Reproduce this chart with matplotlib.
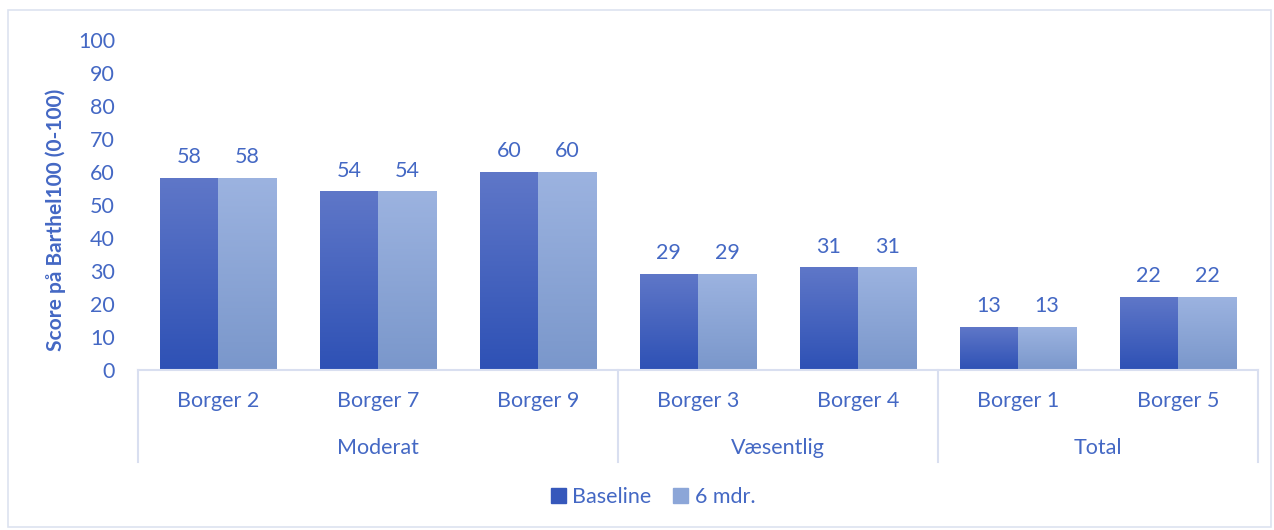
import numpy as np
import matplotlib.pyplot as plt
from matplotlib.patches import Rectangle
from matplotlib.lines import Line2D
from matplotlib.colors import to_rgb
import matplotlib.transforms as mtransforms

categories = ["Borger 2", "Borger 7", "Borger 9", "Borger 3", "Borger 4", "Borger 1", "Borger 5"]
groups = ["Moderat", "Væsentlig", "Total"]
group_sizes = [3, 2, 2]
baseline = [58, 54, 60, 29, 31, 13, 22]
six_months = [58, 54, 60, 29, 31, 13, 22]
series_names = ["Baseline", "6 mdr."]

TEXT = "#4468c4"
AXIS_LINE = "#d9dff0"
FONT = "Lato"
FS = 15.5

# top / bottom colours of each bar's vertical gradient
grad = {
    "Baseline": ("#5f77c8", "#2e51b5"),
    "6 mdr.": ("#9cb3e0", "#7a97cb"),
}
legend_col = {"Baseline": "#3658bb", "6 mdr.": "#8ca6d8"}

plt.rcParams["font.family"] = [FONT, "DejaVu Sans"]

fig = plt.figure(figsize=(12.74, 5.30), dpi=100)
ax = fig.add_axes([138 / 1274, 160 / 530, 1120 / 1274, 330 / 530])

x = np.arange(len(categories))
w = 0.365


def gradient_fill(bars, top, bottom):
    c_top = np.array(to_rgb(top))
    c_bot = np.array(to_rgb(bottom))
    t = np.linspace(0, 1, 256)[:, None]
    cols = c_bot[None, :] * (1 - t) + c_top[None, :] * t
    img = np.repeat(cols[:, None, :], 2, axis=1)
    for b in bars:
        h = b.get_height()
        b.set_alpha(0)
        ax.imshow(img, origin="lower", aspect="auto", interpolation="bilinear",
                  extent=[b.get_x(), b.get_x() + b.get_width(), 0, h], zorder=2)


bars1 = ax.bar(x - w / 2, baseline, w, color=legend_col["Baseline"])
bars2 = ax.bar(x + w / 2, six_months, w, color=legend_col["6 mdr."])
gradient_fill(bars1, *grad["Baseline"])
gradient_fill(bars2, *grad["6 mdr."])

for bars, vals in ((bars1, baseline), (bars2, six_months)):
    for b, v in zip(bars, vals):
        ax.annotate(f"{v}", (b.get_x() + b.get_width() / 2, v), xytext=(0, 8),
                    textcoords="offset points", ha="center", va="bottom",
                    fontsize=FS, color=TEXT)

ax.set_xlim(-0.5, len(categories) - 0.5)
ax.set_ylim(0, 100)
ax.set_yticks(np.arange(0, 101, 10))
ax.tick_params(axis="y", length=0, pad=16.5, labelsize=FS, labelcolor=TEXT)
ax.set_xticks(x)
ax.set_xticklabels(categories)
ax.tick_params(axis="x", length=0, pad=15, labelsize=FS, labelcolor=TEXT)

for s in ("top", "right", "left"):
    ax.spines[s].set_visible(False)
ax.spines["bottom"].set_color(AXIS_LINE)
ax.spines["bottom"].set_linewidth(1.5)

ax.set_ylabel("Score på Barthel100 (0-100)", fontsize=15, fontweight="bold",
              color=TEXT)
ax.yaxis.set_label_coords(-0.064, 0.455)

# group separators and group labels under the category labels
trans = mtransforms.blended_transform_factory(ax.transData, ax.transAxes)
edges = np.concatenate([[0], np.cumsum(group_sizes)]) - 0.5
for e in edges:
    ax.add_line(Line2D([e, e], [0, -0.28], transform=trans, color=AXIS_LINE,
                       lw=1.5, clip_on=False))
for g, a, b in zip(groups, edges[:-1], edges[1:]):
    ax.text((a + b) / 2, -0.235, g, transform=trans, ha="center", va="center",
            fontsize=FS, color=TEXT)

handles = [Rectangle((0, 0), 1, 1, color=legend_col[n]) for n in series_names]
fig.legend(handles, series_names, loc="center", bbox_to_anchor=(653 / 1274, 1 - 497 / 530),
           ncol=2, frameon=False, fontsize=FS, labelcolor=TEXT,
           handlelength=0.7, handleheight=0.7, handletextpad=0.3, columnspacing=1.0)

fig.add_artist(Rectangle((8 / 1274, 3 / 530), 1263 / 1274, 517 / 530,
                         transform=fig.transFigure, fill=False,
                         edgecolor="#dde3f0", lw=1.2))

fig.savefig("out.png", dpi=100)
